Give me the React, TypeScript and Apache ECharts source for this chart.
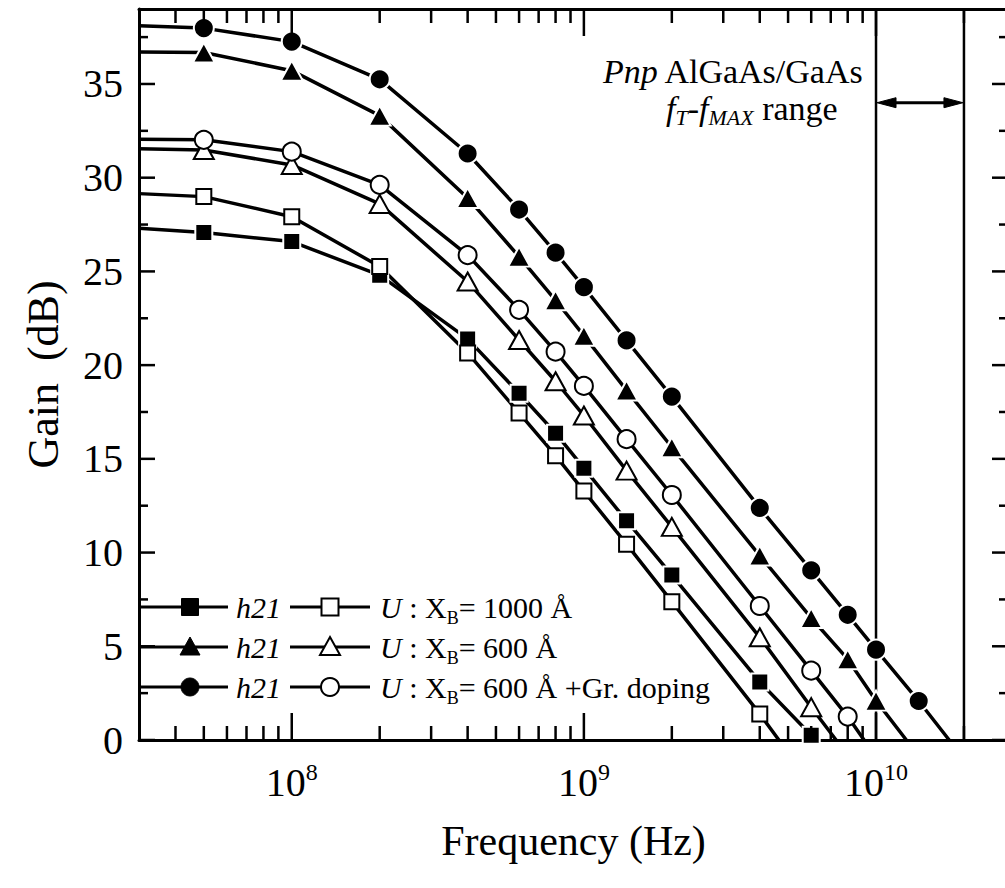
import React, { useEffect, useRef } from 'react';
import * as echarts from 'echarts';

const FONT = '"Liberation Serif", "Times New Roman", serif';

// ---------- layout ----------
const CHART_W = 1005;
const CHART_H = 888;
const GRID = { left: 139, right: -3, top: 9, bottom: 148 };

// ---------- axes ----------
const xMin = 3e7;
const xMax = 2.83e10;
const yMin = 0;
const yMax = 39;
const yInterval = 5;

const xMajorTicks = [1e8, 1e9, 1e10];
const xMinorTicks = [
  4e7, 5e7, 6e7, 7e7, 8e7, 9e7,
  2e8, 3e8, 4e8, 5e8, 6e8, 7e8, 8e8, 9e8,
  2e9, 3e9, 4e9, 5e9, 6e9, 7e9, 8e9, 9e9,
  2e10,
];
const yMajorTicks = [0, 5, 10, 15, 20, 25, 30, 35];
const yMinorTicks = [2.5, 7.5, 12.5, 17.5, 22.5, 27.5, 32.5, 37.5];
const xTickExponents = [8, 9, 10];

// ---------- data ----------
const freqs = [5e7, 1e8, 2e8, 4e8, 6e8, 8e8, 1e9, 1.4e9, 2e9, 4e9, 6e9, 8e9, 1e10, 1.4e10];

const h21_1000 = [27.07, 26.59, 24.8, 21.4, 18.5, 16.37, 14.5, 11.7, 8.8, 3.1, 0.25];
const U_1000 = [28.99, 27.92, 25.26, 20.65, 17.45, 15.17, 13.28, 10.45, 7.38, 1.39];
const h21_600 = [36.68, 35.71, 33.31, 28.92, 25.79, 23.46, 21.57, 18.65, 15.62, 9.84, 6.51, 4.31, 2.1];
const U_600 = [31.48, 30.68, 28.6, 24.46, 21.34, 19.14, 17.31, 14.37, 11.37, 5.48, 1.75];
const h21_600gr = [37.98, 37.26, 35.25, 31.29, 28.3, 26.0, 24.16, 21.32, 18.32, 12.38, 9.05, 6.68, 4.82, 2.08];
const U_600gr = [32.02, 31.39, 29.62, 25.87, 22.95, 20.72, 18.89, 16.05, 13.07, 7.15, 3.7, 1.25];

// gain where each line leaves the left axis
const startGains = [27.3, 29.15, 36.7, 31.55, 38.1, 32.05];
// frequency where each line reaches 0 dB (null = ends at last marker)
const zeroCrossFreqs: (number | null)[] = [null, 4.65e9, 1.27e10, 7.3e9, 1.78e10, 9.1e9];

const rangeBounds = [1e10, 2e10];
const arrowGain = 34;

const seriesGains = [h21_1000, U_1000, h21_600, U_600, h21_600gr, U_600gr];
const seriesNames = ['h21 1000', 'U 1000', 'h21 600', 'U 600', 'h21 600 Gr', 'U 600 Gr'];
const seriesSymbols = ['rect', 'rect', 'triangle', 'triangle', 'circle', 'circle'];
const seriesFilled = [true, false, true, false, true, false];

function symbolSize(sym: string, filled: boolean): number | number[] {
  const add = filled ? 2 : 0;
  if (sym === 'rect') return 15 + add;
  if (sym === 'triangle') return [20 + add, 18 + add];
  return 18 + add;
}

function buildData(i: number) {
  const g = seriesGains[i];
  const d: any[] = [{ value: [xMin, startGains[i]], symbol: 'none' }];
  g.forEach((v, k) => d.push([freqs[k], v]));
  const z = zeroCrossFreqs[i];
  if (z !== null) d.push({ value: [z, 0], symbol: 'none' });
  return d;
}

const axisLine = () => ({ show: true, onZero: false, lineStyle: { color: '#000', width: 3 } });

// tick marks drawn as tiny line segments in data space (lengths converted from pixels)
function buildTickSeries() {
  const plotW = CHART_W - GRID.left - GRID.right;
  const plotH = CHART_H - GRID.top - GRID.bottom;
  const decPerPx = Math.log10(xMax / xMin) / plotW;
  const unitPerPx = (yMax - yMin) / plotH;
  const segs: number[][][] = [];
  const addX = (f: number, len: number) => {
    const dy = len * unitPerPx;
    segs.push([[f, yMin], [f, yMin + dy]]);
    segs.push([[f, yMax], [f, yMax - dy]]);
  };
  const addY = (v: number, len: number) => {
    const k = Math.pow(10, len * decPerPx);
    segs.push([[xMin, v], [xMin * k, v]]);
    segs.push([[xMax, v], [xMax / k, v]]);
  };
  xMajorTicks.forEach((f) => addX(f, 27));
  xMinorTicks.forEach((f) => addX(f, 14));
  yMajorTicks.forEach((v) => addY(v, 16));
  yMinorTicks.forEach((v) => addY(v, 9));
  return segs.map((s) => ({
    type: 'line',
    data: s,
    symbol: 'none',
    silent: true,
    clip: false,
    lineStyle: { color: '#000', width: 2.5 },
    z: 4,
  }));
}

function buildStaticGraphics() {
  const rowY = [607, 647, 687];
  const legendTexts = [
    '{u|U}{n| : X}{sub|B}{n|= 1000 Å}',
    '{u|U}{n| : X}{sub|B}{n|= 600 Å}',
    '{u|U}{n| : X}{sub|B}{n|= 600 Å +Gr. doping}',
  ];
  const legRich = {
    u: { fontFamily: FONT, fontStyle: 'italic', fontSize: 30, lineHeight: 40, color: '#000' },
    n: { fontFamily: FONT, fontSize: 30, lineHeight: 40, color: '#000' },
    sub: { fontFamily: FONT, fontSize: 18, lineHeight: 16, verticalAlign: 'bottom', color: '#000' },
  };
  const legendShape = ['rect', 'triangle', 'circle'];
  const mk = (shape: string, cx: number, cy: number, filled: boolean) => {
    const style = filled
      ? { fill: '#000', stroke: '#000', lineWidth: 1 }
      : { fill: '#fff', stroke: '#000', lineWidth: 2 };
    if (shape === 'rect') return { type: 'rect', shape: { x: cx - 8.5, y: cy - 8.5, width: 17, height: 17 }, style };
    if (shape === 'triangle')
      return { type: 'polygon', shape: { points: [[cx, cy - 10], [cx + 10, cy + 8], [cx - 10, cy + 8]] }, style };
    return { type: 'circle', shape: { cx, cy, r: 9 }, style };
  };
  const out: any[] = [];
  rowY.forEach((y, r) => {
    out.push({ type: 'line', shape: { x1: 140, y1: y, x2: 228, y2: y }, style: { stroke: '#000', lineWidth: 3 } });
    out.push(mk(legendShape[r], 190, y, true));
    out.push({
      type: 'text', x: 236, y,
      style: { text: 'h21', fontFamily: FONT, fontStyle: 'italic', fontSize: 30, fill: '#000', verticalAlign: 'middle', align: 'left' },
    });
    out.push({ type: 'line', shape: { x1: 290, y1: y, x2: 370, y2: y }, style: { stroke: '#000', lineWidth: 3 } });
    out.push(mk(legendShape[r], 330, y, false));
    out.push({
      type: 'text', x: 380, y,
      style: { text: legendTexts[r], rich: legRich, fill: '#000', verticalAlign: 'middle', align: 'left' },
    });
  });

  const annRich = {
    i: { fontFamily: FONT, fontStyle: 'italic', fontSize: 34, lineHeight: 40, color: '#000' },
    n: { fontFamily: FONT, fontSize: 34, lineHeight: 40, color: '#000' },
    sub: { fontFamily: FONT, fontStyle: 'italic', fontSize: 22, lineHeight: 20, verticalAlign: 'bottom', color: '#000' },
  };
  out.push({
    type: 'text', x: 603, y: 71,
    style: { text: '{i|Pnp}{n| AlGaAs/GaAs}', rich: annRich, fill: '#000', verticalAlign: 'middle', align: 'left' },
  });
  out.push({
    type: 'text', x: 666, y: 108,
    style: { text: '{i|f}{sub|T}{n|-}{i|f}{sub|MAX}{n| range}', rich: annRich, fill: '#000', verticalAlign: 'middle', align: 'left' },
  });
  return out;
}

function buildOption() {
  const series: any[] = seriesNames.map((name, i) => ({
    type: 'line',
    name,
    data: buildData(i),
    symbol: seriesSymbols[i],
    symbolSize: symbolSize(seriesSymbols[i], seriesFilled[i]),
    lineStyle: { color: '#000', width: 3.5 },
    itemStyle: seriesFilled[i]
      ? { color: '#000', borderColor: '#fff', borderWidth: 2 }
      : { color: '#fff', borderColor: '#000', borderWidth: 2 },
    silent: true,
    z: 3,
  }));

  return {
    animation: false,
    backgroundColor: '#fff',
    grid: { ...GRID, containLabel: false, outerBoundsMode: 'none' },
    xAxis: [
      {
        type: 'log', logBase: 10, min: xMin, max: xMax, position: 'bottom',
        name: 'Frequency (Hz)', nameLocation: 'middle', nameGap: 80,
        nameTextStyle: { fontFamily: FONT, fontSize: 42, color: '#000' },
        axisLine: axisLine(),
        axisTick: { show: false },
        splitLine: { show: false },
        axisLabel: {
          show: true, margin: 20, showMinLabel: false, showMaxLabel: false,
          formatter: (v: number) => {
            const lv = Math.log10(v);
            const e = Math.round(lv);
            if (!xTickExponents.includes(e) || Math.abs(lv - e) > 1e-6) return '';
            return '{b|10}{s|' + e + '}';
          },
          rich: {
            b: { fontFamily: FONT, fontSize: 40, lineHeight: 44, color: '#000' },
            s: { fontFamily: FONT, fontSize: 24, lineHeight: 18, verticalAlign: 'top', color: '#000' },
          },
        },
      },
      {
        type: 'log', logBase: 10, min: xMin, max: xMax, position: 'top',
        axisLine: axisLine(), axisTick: { show: false }, axisLabel: { show: false }, splitLine: { show: false },
      },
    ],
    yAxis: [
      {
        type: 'value', min: yMin, max: yMax, interval: yInterval, position: 'left',
        name: 'Gain\u00a0 (dB)', nameLocation: 'middle', nameGap: 74,
        nameTextStyle: { fontFamily: FONT, fontSize: 44, color: '#000' },
        axisLine: axisLine(),
        axisTick: { show: false },
        splitLine: { show: false },
        axisLabel: { show: true, fontFamily: FONT, fontSize: 40, color: '#000', margin: 16, showMaxLabel: false },
      },
      {
        type: 'value', min: yMin, max: yMax, interval: yInterval, position: 'right',
        axisLine: axisLine(), axisTick: { show: false }, axisLabel: { show: false }, splitLine: { show: false },
      },
    ],
    series: [...series, ...buildTickSeries()],
    graphic: buildStaticGraphics(),
  };
}

type Px = { px: (f: number) => number; py: (v: number) => number };

function scalesOf(chart: echarts.ECharts): Px {
  return {
    px: (f: number) => chart.convertToPixel({ xAxisIndex: 0 }, f) as number,
    py: (v: number) => chart.convertToPixel({ yAxisIndex: 0 }, v) as number,
  };
}

// f_T - f_MAX range lines and double arrow
function buildRangeGraphics({ px, py }: Px) {
  const top = py(yMax), bottom = py(yMin);
  const xa = px(rangeBounds[0]);
  const xb = px(rangeBounds[1]);
  const ya = py(arrowGain);
  const st = (w: number) => ({ stroke: '#000', lineWidth: w });
  return [
    { type: 'line', silent: true, shape: { x1: xa, y1: top, x2: xa, y2: bottom }, style: st(2.5) },
    { type: 'line', silent: true, shape: { x1: xb, y1: top, x2: xb, y2: bottom }, style: st(2.5) },
    { type: 'line', silent: true, shape: { x1: xa + 8, y1: ya, x2: xb - 8, y2: ya }, style: st(3) },
    {
      type: 'polygon', silent: true,
      shape: { points: [[xa + 1, ya], [xa + 20, ya - 5], [xa + 20, ya + 5]] },
      style: { fill: '#000', stroke: '#000', lineWidth: 1 },
    },
    {
      type: 'polygon', silent: true,
      shape: { points: [[xb - 1, ya], [xb - 20, ya - 5], [xb - 20, ya + 5]] },
      style: { fill: '#000', stroke: '#000', lineWidth: 1 },
    },
  ];
}

export default function App() {
  const ref = useRef<HTMLDivElement>(null);
  useEffect(() => {
    const chart = echarts.init(ref.current!, null, { renderer: 'svg' });
    chart.setOption(buildOption() as any);
    const sc = scalesOf(chart);
    chart.setOption({ graphic: [...buildStaticGraphics(), ...buildRangeGraphics(sc)] });
    return () => chart.dispose();
  }, []);
  return (
    <div
      ref={ref}
      style={{ position: 'absolute', left: 0, top: 0, width: CHART_W, height: CHART_H, background: '#fff' }}
    />
  );
}
